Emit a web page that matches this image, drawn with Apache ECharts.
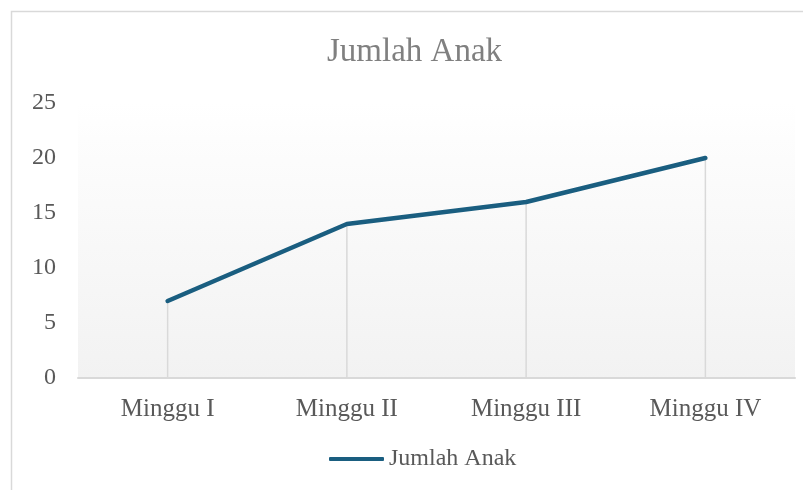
<!DOCTYPE html>
<html><head><meta charset="utf-8">
<script src="https://cdn.jsdelivr.net/npm/echarts@6/dist/echarts.min.js"></script>
<style>html,body{margin:0;padding:0;background:#fff}#c{width:803px;height:490px}</style>
</head><body><div id="c"></div>
<script>
const categories = ['Minggu I', 'Minggu II', 'Minggu III', 'Minggu IV'];
const jumlahAnak = [7, 14, 16, 20];
const seriesName = 'Jumlah Anak';
const titleText = 'Jumlah Anak';

const serif = '"Liberation Serif", "DejaVu Serif", serif';
const chart = echarts.init(document.getElementById('c'));
chart.setOption({
  animation: false,
  backgroundColor: '#fff',
  graphic: [{
    type: 'rect', shape: { x: 11.5, y: 11.5, width: 820, height: 520 },
    style: { fill: 'none', stroke: '#d9d9d9', lineWidth: 1.5 }, silent: true, z: -1
  }],
  title: {
    text: titleText, left: 322, top: 31,
    textStyle: { fontFamily: serif, fontSize: 33, fontWeight: 'normal', color: '#808080' }
  },
  legend: {
    data: [seriesName], bottom: 14, left: 324,
    itemWidth: 55, itemHeight: 4, itemGap: 4,
    icon: 'roundRect',
    textStyle: { fontFamily: serif, fontSize: 24, color: '#595959', padding: [0, 0, 0, 0] }
  },
  grid: { left: 78, right: 8, top: 103, bottom: 112, show: true, borderWidth: 0,
    backgroundColor: new echarts.graphic.LinearGradient(0, 0, 0, 1, [
      { offset: 0, color: '#ffffff' }, { offset: 0.13, color: '#fdfdfd' }, { offset: 1, color: '#f2f2f2' }
    ]) },
  xAxis: {
    type: 'category', data: categories, boundaryGap: true,
    axisLine: { lineStyle: { color: '#d9d9d9', width: 2 } },
    axisTick: { show: false },
    axisLabel: { fontFamily: serif, fontSize: 25, color: '#595959', margin: 19 }
  },
  yAxis: {
    type: 'value', min: 0, max: 25, interval: 5,
    axisLine: { show: false }, axisTick: { show: false },
    splitLine: { show: false },
    axisLabel: { fontFamily: serif, fontSize: 24, color: '#595959', margin: 22, padding: [3, 0, 0, 0] }
  },
  series: [
    { name: 'drop', type: 'bar', data: jumlahAnak, barWidth: 1.5, silent: true,
      itemStyle: { color: '#d9d9d9' }, z: 1 },
    { name: seriesName, type: 'line', data: jumlahAnak, symbol: 'none',
      lineStyle: { color: '#1a5e80', width: 4.5, cap: 'round' }, itemStyle: { color: '#1a5e80' }, z: 3 }
  ]
});
</script></body></html>
